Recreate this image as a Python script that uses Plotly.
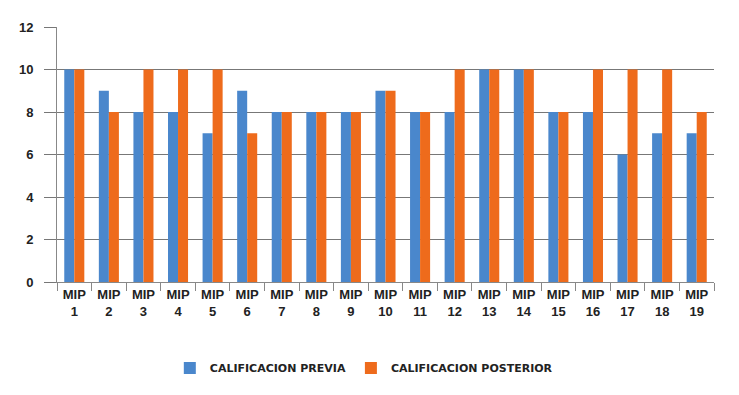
import plotly.graph_objects as go

categories = [f"MIP<br>{i}" for i in range(1, 20)]
previa = [10, 9, 8, 8, 7, 9, 8, 8, 8, 9, 8, 8, 10, 10, 8, 8, 6, 7, 7]
posterior = [10, 8, 10, 10, 10, 7, 8, 8, 8, 9, 8, 10, 10, 10, 8, 10, 10, 10, 8]
y_ticks = [0, 2, 4, 6, 8, 10, 12]

fig = go.Figure()
fig.add_trace(go.Bar(x=categories, y=previa, name="CALIFICACION PREVIA",
                     marker=dict(color="#4a87cc", line=dict(width=0))))
fig.add_trace(go.Bar(x=categories, y=posterior, name="CALIFICACION POSTERIOR",
                     marker=dict(color="#ee6b1c", line=dict(width=0))))

fig.update_layout(
    width=739, height=395,
    margin=dict(l=49, r=33, t=19, b=121, autoexpand=False),
    paper_bgcolor="white", plot_bgcolor="white",
    barmode="group", bargap=0.42, bargroupgap=0,
    font=dict(family="Liberation Sans, Arial", size=12, color="#222"),
    legend=dict(orientation="h", x=0.467, xanchor="center", y=-0.28, yanchor="top",
                font=dict(size=11, family="DejaVu Sans", color="#222",
                          weight="bold"),
                itemwidth=30, traceorder="normal"),
    xaxis=dict(showline=True, linecolor="#888", linewidth=1, ticks="outside",
               tickson="boundaries", ticklen=8, tickcolor="#888",
               tickfont=dict(size=13, family="Liberation Sans, Arial", color="#222",
                             weight="bold"),
               showgrid=False),
    yaxis=dict(range=[0, 12], tickvals=y_ticks, showline=True, linecolor="#888",
               linewidth=1, ticks="outside", ticklen=12, tickcolor="#777",
               gridcolor="#777", gridwidth=1, zeroline=False, ticklabelstandoff=8,
               tickfont=dict(size=13, family="Liberation Sans, Arial", color="#222",
                             weight="bold")),
)
fig.write_html("out.html")
